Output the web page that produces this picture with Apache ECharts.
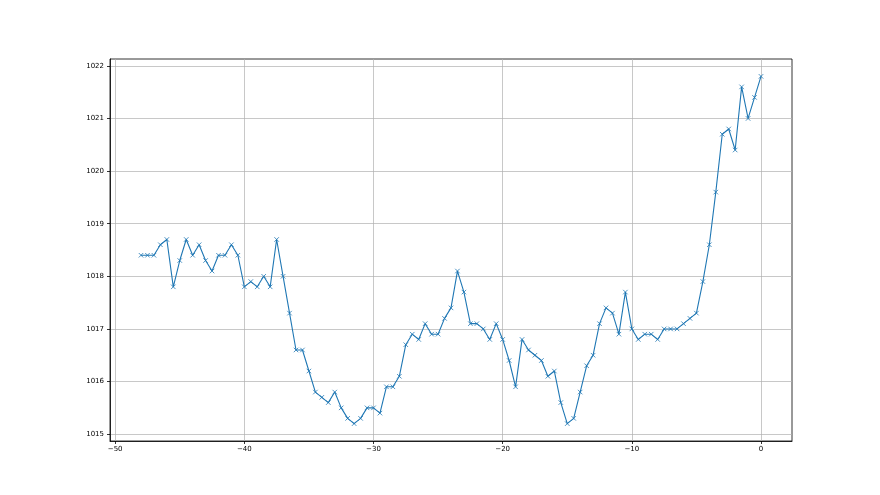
<!DOCTYPE html>
<html>
<head>
<meta charset="utf-8">
<script src="https://cdn.jsdelivr.net/npm/echarts@6/dist/echarts.min.js"></script>
<style>html,body{margin:0;padding:0;background:#fff}#c{width:880px;height:495px}</style>
</head>
<body>
<div id="c"></div>
<script>
const xValues = [-48,-47.5,-47,-46.5,-46,-45.5,-45,-44.5,-44,-43.5,-43,-42.5,-42,-41.5,-41,-40.5,-40,-39.5,-39,-38.5,-38,-37.5,-37,-36.5,-36,-35.5,-35,-34.5,-34,-33.5,-33,-32.5,-32,-31.5,-31,-30.5,-30,-29.5,-29,-28.5,-28,-27.5,-27,-26.5,-26,-25.5,-25,-24.5,-24,-23.5,-23,-22.5,-22,-21.5,-21,-20.5,-20,-19.5,-19,-18.5,-18,-17.5,-17,-16.5,-16,-15.5,-15,-14.5,-14,-13.5,-13,-12.5,-12,-11.5,-11,-10.5,-10,-9.5,-9,-8.5,-8,-7.5,-7,-6.5,-6,-5.5,-5,-4.5,-4,-3.5,-3,-2.5,-2,-1.5,-1,-0.5,0];
const pressure = [1018.4,1018.4,1018.4,1018.6,1018.7,1017.8,1018.3,1018.7,1018.4,1018.6,1018.3,1018.1,1018.4,1018.4,1018.6,1018.4,1017.8,1017.9,1017.8,1018.0,1017.8,1018.7,1018.0,1017.3,1016.6,1016.6,1016.2,1015.8,1015.7,1015.6,1015.8,1015.5,1015.3,1015.2,1015.3,1015.5,1015.5,1015.4,1015.9,1015.9,1016.1,1016.7,1016.9,1016.8,1017.1,1016.9,1016.9,1017.2,1017.4,1018.1,1017.7,1017.1,1017.1,1017.0,1016.8,1017.1,1016.8,1016.4,1015.9,1016.8,1016.6,1016.5,1016.4,1016.1,1016.2,1015.6,1015.2,1015.3,1015.8,1016.3,1016.5,1017.1,1017.4,1017.3,1016.9,1017.7,1017.0,1016.8,1016.9,1016.9,1016.8,1017.0,1017.0,1017.0,1017.1,1017.2,1017.3,1017.9,1018.6,1019.6,1020.7,1020.8,1020.4,1021.6,1021.0,1021.4,1021.8];
const xTicks = [-50,-40,-30,-20,-10,0];
const yTicks = [1015,1016,1017,1018,1019,1020,1021,1022];

const chart = echarts.init(document.getElementById('c'), null, {renderer:'canvas'});
const font = 'DejaVu Sans';
chart.setOption({
  animation: false,
  backgroundColor: '#fff',
  grid: {left:110, right:88, top:59, bottom:54, show:true, borderColor:'#000', borderWidth:0.8, backgroundColor:'transparent'},
  xAxis: {
    type:'value', min:-50.4, max:2.4,
    axisLine:{show:true, onZero:false, lineStyle:{color:'#000', width:0.8}},
    axisTick:{show:true, length:3, inside:false, customValues:xTicks, lineStyle:{color:'#000', width:0.8}},
    axisLabel:{customValues:xTicks, color:'#000', fontFamily:font, fontSize:7, margin:5,
      formatter:v=>String(v).replace('-', '\u2212')},
    splitLine:{show:true, lineStyle:{color:'#b0b0b0', width:0.7}}
  },
  yAxis: {
    type:'value', min:1014.87, max:1022.13,
    axisLine:{show:true, onZero:false, lineStyle:{color:'#000', width:0.8}},
    axisTick:{show:true, length:3, inside:false, customValues:yTicks, lineStyle:{color:'#000', width:0.8}},
    axisLabel:{customValues:yTicks, color:'#000', fontFamily:font, fontSize:7, margin:6,
      formatter:v=>String(v)},
    splitLine:{show:true, lineStyle:{color:'#b0b0b0', width:0.7}}
  },
  series: [{
    type:'line',
    data: xValues.map((x,i)=>[x, pressure[i]]),
    lineStyle:{color:'#1f77b4', width:1.1},
    symbol:'path://M0,0L10,10M10,0L0,10',
    symbolSize:4.5,
    showAllSymbol:true,
    itemStyle:{color:'#1f77b4', borderColor:'#1f77b4', borderWidth:0.8},
    z:3
  }]
});
</script>
</body>
</html>
